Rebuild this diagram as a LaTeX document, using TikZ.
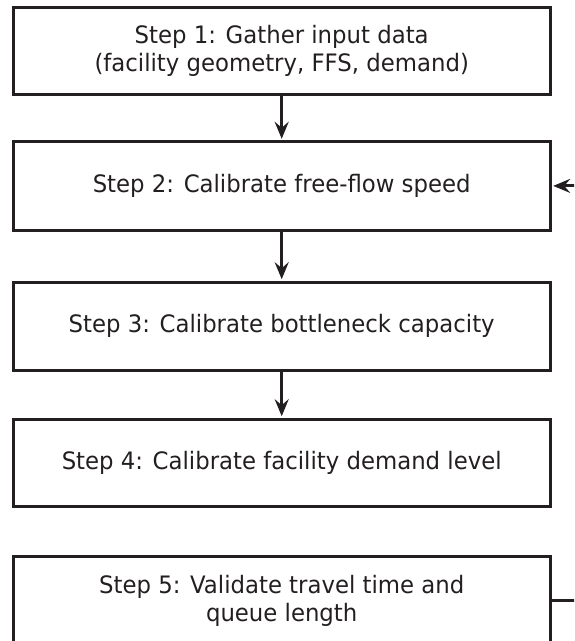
\documentclass[tikz,border=0pt]{standalone}
\usepackage{fontspec}
\setmainfont{DejaVu Sans}[FakeStretch=0.95]
\usetikzlibrary{arrows.meta}
\definecolor{ink}{HTML}{231F20}
\begin{document}
\begin{tikzpicture}[x=1pt,y=-1pt,
  box/.style={draw=ink, line width=3pt, minimum width=537pt, minimum height=88pt,
    inner sep=0pt, align=center, text=ink, font=\fontsize{24}{28}\selectfont},
  link/.style={draw=ink, line width=3pt, shorten >=1.5pt,
    -{Stealth[length=17pt,width=14pt,inset=6pt]}},
  plain/.style={draw=ink, line width=3pt}]
\useasboundingbox (0,0) rectangle (574,641);
\clip (0,0) rectangle (574,641);
\node[box, minimum height=87.3pt] (s1) at (281.7,51.15) {Step 1: Gather input data\\(facility geometry, FFS, demand)};
\node[box, minimum height=88.2pt] (s2) at (281.7,185.9) {Step 2: Calibrate free-flow speed};
\node[box] (s3) at (281.7,326.2) {Step 3: Calibrate bottleneck capacity};
\node[box, minimum height=87.3pt] (s4) at (281.7,462.85) {Step 4: Calibrate facility demand level};
\node[box] (s5) at (281.7,600.8) {Step 5: Validate travel time and\\queue length};
\coordinate (r2) at (585,185.9);
\coordinate (r5) at (585,600.8);
\draw[link] (s1.south) -- (s2.north);
\draw[link] (s2.south) -- (s3.north);
\draw[link] (s3.south) -- (s4.north);
\draw[link] (r2) -- (s2.east);
\draw[plain] (s5.east) -- (r5);
\end{tikzpicture}
\end{document}
